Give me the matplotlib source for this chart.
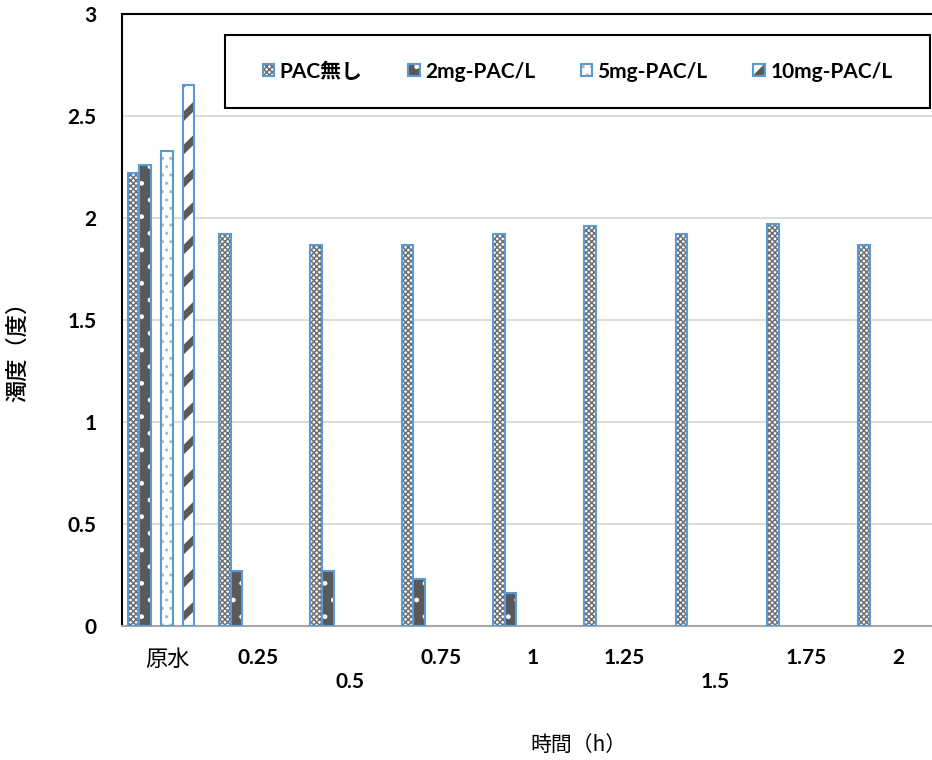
import numpy as np
import matplotlib.pyplot as plt
from matplotlib.patches import Patch, Rectangle
from matplotlib.legend_handler import HandlerPatch

# turbidity per elapsed time, one list per PAC dose (0 = not measured / no bar)
times = ['原水', '0.25', '0.5', '0.75', '1', '1.25', '1.5', '1.75', '2']
pac_none = [2.22, 1.92, 1.87, 1.87, 1.92, 1.96, 1.92, 1.97, 1.87]
pac_2mg = [2.26, 0.27, 0.27, 0.23, 0.16, 0, 0, 0, 0]
pac_5mg = [2.33, 0, 0, 0, 0, 0, 0, 0, 0]
pac_10mg = [2.65, 0, 0, 0, 0, 0, 0, 0, 0]
series_names = ['PAC無し', '2mg-PAC/L', '5mg-PAC/L', '10mg-PAC/L']
y_ticks = [0, 0.5, 1, 1.5, 2, 2.5, 3]

EDGE = '#5b9bd5'
DARK = '#595959'
LATIN = ['Lato', 'Noto Sans CJK JP']
CJK = ['Noto Sans CJK JP', 'DejaVu Sans']

# fill, hatch, hatch colour, hatch line width
styles = [
    ('white', 'xxxxxx', '#6e6e6e', 1.1),
    (DARK, '.', 'white', 1.0),
    ('white', '..', '#b4b4b4', 1.0),
    ('white', '/', DARK, 5.0),
]
offsets = [-0.37, -0.24, 0.0, 0.235]
width = 0.128

fig = plt.figure(figsize=(9.32, 7.6), dpi=100)
ax = fig.add_axes([121.5 / 932, 134 / 760, 822 / 932, 612 / 760])

x = np.arange(len(times))
all_series = [pac_none, pac_2mg, pac_5mg, pac_10mg]
for vals, off, (fc, hatch, hc, hlw) in zip(all_series, offsets, styles):
    vals = np.array(vals, dtype=float)
    mask = vals > 0
    # pattern layer: hatch takes the edge colour, edge itself not drawn
    with plt.rc_context({'hatch.linewidth': hlw}):
        ax.bar(x[mask] + off, vals[mask], width, color=fc,
               edgecolor=hc, hatch=hatch, linewidth=0, zorder=2)
    # blue outline
    ax.bar(x[mask] + off, vals[mask], width, fill=False,
           edgecolor=EDGE, linewidth=1.5, zorder=3)

ax.set_xlim(-0.5, len(times) - 0.5)
ax.set_ylim(0, 3)
ax.set_yticks(y_ticks)
ax.set_yticklabels([f'{v:g}' for v in y_ticks], family=LATIN,
                   fontweight='bold', fontsize=15)
ax.grid(axis='y', color='#d9d9d9', linewidth=1.3)
ax.set_axisbelow(True)

# staggered category labels
xlabels = [('\n' + t) if t in ('0.5', '1.5') else t for t in times]
ax.set_xticks(x)
ax.set_xticklabels(xlabels, family=LATIN, fontweight='bold', fontsize=15,
                   linespacing=1.25)
ax.get_xticklabels()[0].set_family(CJK)
ax.get_xticklabels()[0].set_fontweight('normal')
ax.get_xticklabels()[0].set_fontsize(16)
ax.tick_params(axis='both', length=0)
ax.tick_params(axis='x', pad=16)
ax.tick_params(axis='y', pad=18)

for side in ('left', 'top'):
    ax.spines[side].set_color('black')
    ax.spines[side].set_linewidth(1.5)
ax.spines['bottom'].set_color('#a6a6a6')
ax.spines['bottom'].set_linewidth(1.5)
ax.spines['right'].set_visible(False)

fig.text(578 / 932, 1 - 745 / 760, '時間（h）', family=CJK, fontsize=15,
         ha='center', va='center')
fig.text(18 / 932, 1 - 346 / 760, '濁度（度）', family=CJK, fontsize=16,
         fontweight='medium', rotation=90, ha='center', va='center')


# legend swatches: pattern square + blue outline
def swatch(legend, orig_handle, xdescent, ydescent, width, height, fontsize):
    with plt.rc_context({'hatch.linewidth': orig_handle.hatch_lw}):
        r = Rectangle((-xdescent, -ydescent), width, height)
    return r


handles = []
for fc, hatch, hc, hlw in styles:
    p = Patch(facecolor=fc, edgecolor=hc, hatch=hatch, linewidth=0)
    p.hatch_lw = hlw
    o = Patch(fill=False, edgecolor=EDGE, linewidth=1.5)
    o.hatch_lw = 1.0
    handles.append((p, o))
leg = fig.legend(handles, series_names, loc='center', ncol=4,
                 bbox_to_anchor=(577.5 / 932, 1 - 71.5 / 760),
                 handler_map={Patch: HandlerPatch(patch_func=swatch)},
                 prop={'family': LATIN, 'weight': 'bold', 'size': 15},
                 frameon=False, handlelength=0.55, handleheight=0.55,
                 handletextpad=0.25, columnspacing=2.2)
# legend box drawn on the figure
fig.add_artist(Rectangle((225 / 932, 1 - 108 / 760), 705 / 932, 73 / 760,
                         transform=fig.transFigure, fill=False,
                         edgecolor='black', linewidth=1.5))

fig.savefig('out.png', dpi=100)
